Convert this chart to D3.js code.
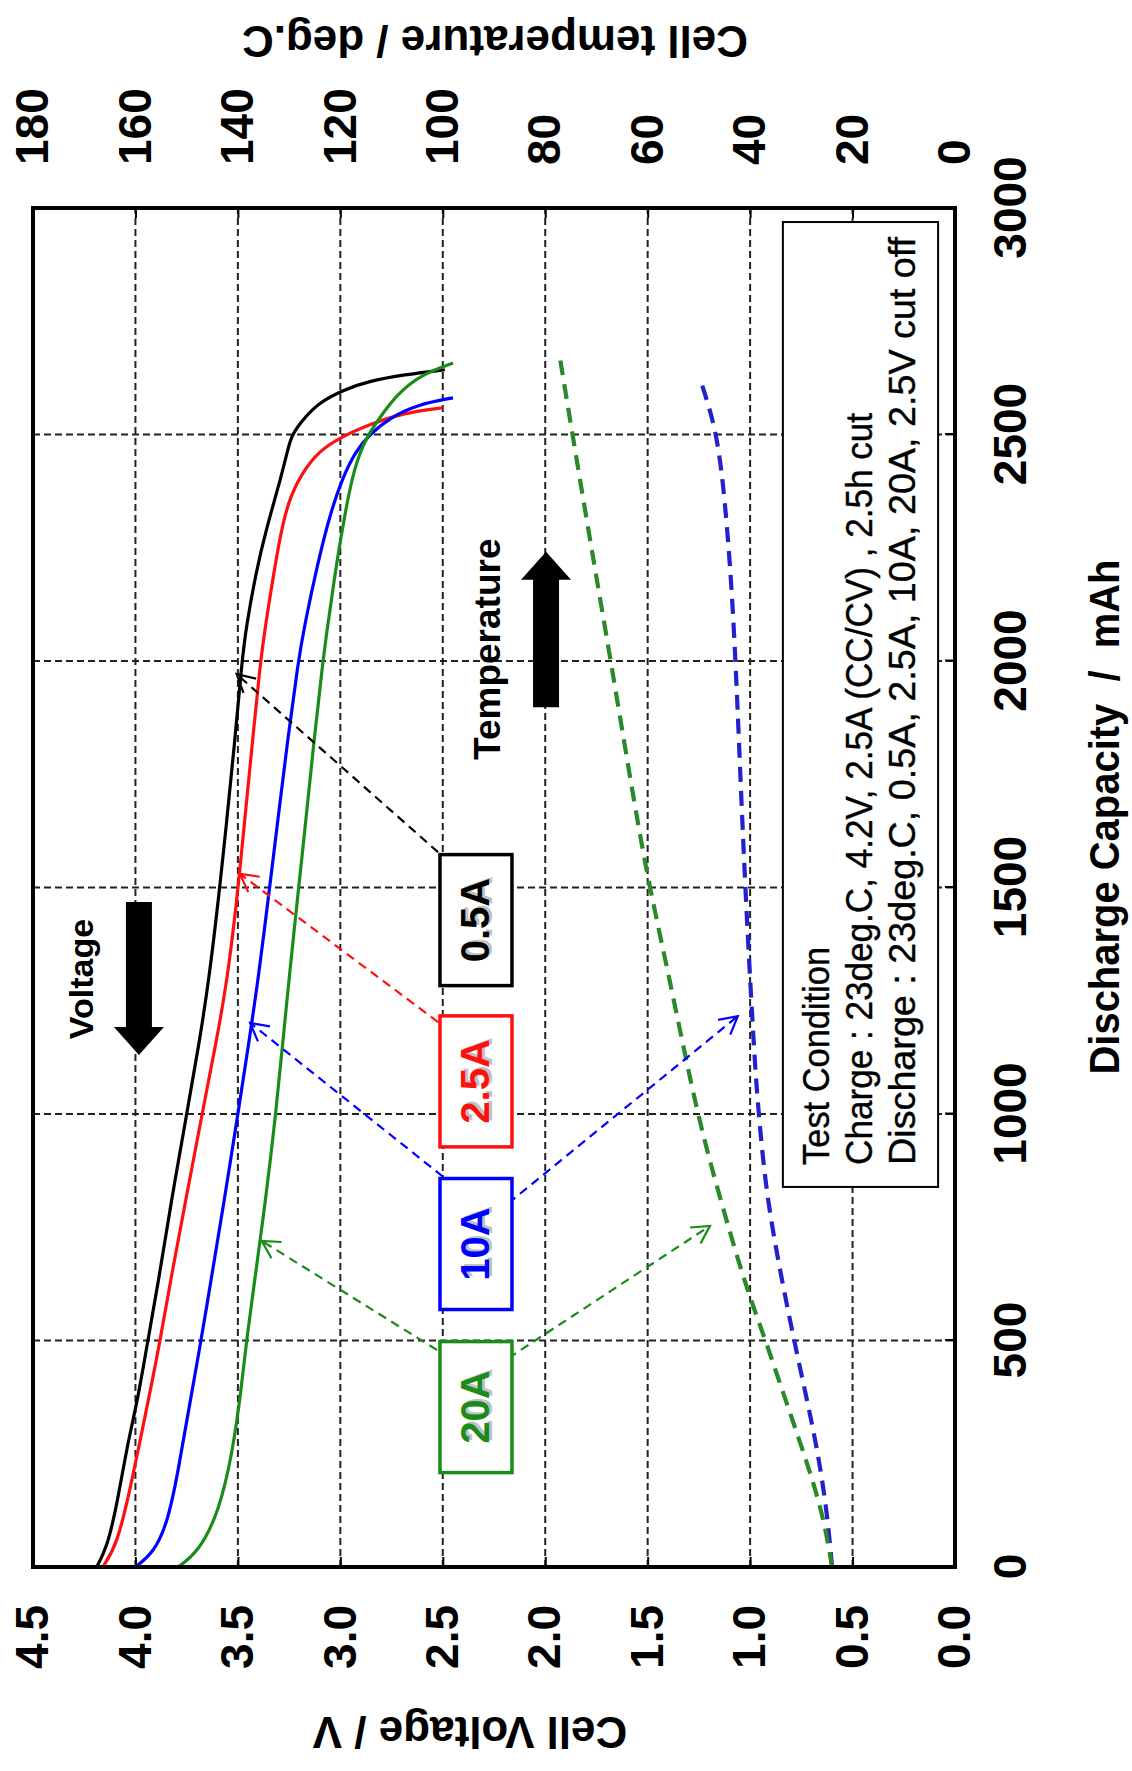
<!DOCTYPE html>
<html>
<head>
<meta charset="utf-8">
<script src="https://cdn.jsdelivr.net/npm/d3@7"></script>
<style>
  body { margin: 0; background: #fff; }
  svg { display: block; }
</style>
</head>
<body>
<svg id="chart"></svg>
<script>
// discharge curves, [capacity mAh, cell voltage V]
const volt05A = [[0,4.19],[41,4.14],[137,4.09],[270,4.04],[366,3.99],[499,3.94],[624,3.89],[808,3.825],[1000,3.75],[1153,3.69],[1300,3.64],[1493,3.59],[1645,3.555],[1823,3.515],[2000,3.48],[2074,3.46],[2200,3.41],[2294,3.36],[2404,3.29],[2470,3.255],[2500,3.235],[2529,3.19],[2570,3.108],[2599,2.983],[2618,2.858],[2632,2.69],[2643,2.49]]
const volt25A = [[0,4.16],[48,4.09],[174,4.025],[284,3.975],[395,3.925],[499,3.88],[654,3.82],[808,3.755],[1000,3.675],[1153,3.608],[1300,3.55],[1493,3.5],[1616,3.474],[1793,3.435],[2000,3.39],[2074,3.367],[2294,3.29],[2368,3.24],[2412,3.19],[2463,3.108],[2496,2.99],[2522,2.858],[2548,2.69],[2559,2.5]]
const volt10A = [[0,4.0],[33,3.908],[100,3.842],[210,3.792],[343,3.742],[499,3.68],[650,3.625],[808,3.567],[1000,3.5],[1153,3.448],[1300,3.4],[1493,3.347],[1645,3.306],[1823,3.258],[2000,3.205],[2074,3.177],[2221,3.108],[2324,3.05],[2404,2.99],[2463,2.925],[2500,2.858],[2537,2.758],[2566,2.625],[2581,2.45]]
const volt20A = [[0,3.792],[33,3.692],[122,3.592],[255,3.525],[395,3.483],[499,3.458],[593,3.43],[808,3.365],[1000,3.315],[1153,3.282],[1300,3.25],[1493,3.205],[1645,3.169],[1823,3.129],[2000,3.085],[2074,3.063],[2221,3.017],[2331,2.975],[2426,2.933],[2493,2.875],[2537,2.808],[2588,2.725],[2632,2.608],[2658,2.45]]

// cell temperature, [capacity mAh, deg.C]
const temp10A = [[0,24],[100,24.8],[200,26],[300,27.6],[400,29.5],[500,31.4],[600,33.2],[700,34.9],[800,36.4],[900,37.5],[1000,38.3],[1095,39],[1377,40.4],[1658,41.6],[2000,42.8],[2217,43.9],[2400,45.3],[2500,46.6],[2560,48],[2610,49.4]]
const temp20A = [[0,24],[100,25.5],[200,28],[300,31],[400,34],[500,37],[578,39.5],[664,42],[815,45.9],[1002,50.4],[1265,55.1],[1499,59.6],[1658,62.2],[2000,67.2],[2217,70.5],[2467,74.2],[2667,77.1]]

const capTicks = [0, 500, 1000, 1500, 2000, 2500, 3000]
const voltTicks = [0, 0.5, 1, 1.5, 2, 2.5, 3, 3.5, 4, 4.5]
const tempTicks = [0, 20, 40, 60, 80, 100, 120, 140, 160, 180]
const rateNames = ["0.5A", "2.5A", "10A", "20A"]
const conditionLines = [
  "Test Condition",
  "Charge : 23deg.C, 4.2V, 2.5A (CC/CV) , 2.5h cut",
  "Discharge : 23deg.C, 0.5A, 2.5A, 10A, 20A, 2.5V cut off",
]

const FONT = "'Liberation Sans', Arial, sans-serif"
const colors = { "0.5A": "#000000", "2.5A": "#ff1010", "10A": "#0000ff", "20A": "#1a8c1a" }
const tempColors = { "10A": "#2222cc", "20A": "#2a8a2a" }

// page is drawn as the normal chart, then turned a quarter left
const W = 1132, H = 1771
const plot = { left: 33, bottom: 1567, w: 1359, h: 922 }

const svg = d3.select("#chart").attr("width", W).attr("height", H)
svg.append("rect").attr("width", W).attr("height", H).attr("fill", "#fff")

const g = svg.append("g")
  .attr("transform", `translate(${plot.left},${plot.bottom}) rotate(-90)`)

const x = d3.scaleLinear().domain([0, 3000]).range([0, plot.w])
const y = d3.scaleLinear().domain([0, 4.5]).range([plot.h, 0])
const yT = d3.scaleLinear().domain([0, 180]).range([plot.h, 0])

// grid
const grid = g.append("g").attr("stroke", "#222").attr("stroke-width", 2).attr("stroke-dasharray", "7,4")
grid.selectAll(".gx").data(capTicks.slice(1, -1)).join("line")
  .attr("x1", d => x(d)).attr("x2", d => x(d)).attr("y1", 0).attr("y2", plot.h)
grid.selectAll(".gy").data(voltTicks.slice(1, -1)).join("line")
  .attr("y1", d => y(d)).attr("y2", d => y(d)).attr("x1", 0).attr("x2", plot.w)

// test condition box
const cb = g.append("g")
cb.append("rect")
  .attr("x", x(839)).attr("y", y(0.84))
  .attr("width", x(2969) - x(839)).attr("height", y(0.0825) - y(0.84))
  .attr("fill", "#fff").attr("stroke", "#000").attr("stroke-width", 2)
cb.selectAll("text").data(conditionLines).join("text")
  .attr("x", x(839) + 22)
  .attr("y", (d, i) => y(0.84) + 46 + i * 43)
  .attr("font-family", FONT).attr("font-size", 37)
  .attr("stroke", "#000").attr("stroke-width", 0.4)
  .attr("textLength", (d, i) => [218, 752, 928][i]).attr("lengthAdjust", "spacingAndGlyphs")
  .text(d => d)

// curves
const line = d3.line().x(d => x(d[0])).y(d => y(d[1])).curve(d3.curveBasis)
const tline = d3.line().x(d => x(d[0])).y(d => yT(d[1])).curve(d3.curveBasis)

const voltSeries = [["0.5A", volt05A], ["2.5A", volt25A], ["10A", volt10A], ["20A", volt20A]]
g.append("g").selectAll("path").data(voltSeries).join("path")
  .attr("d", d => line(d[1]))
  .attr("fill", "none").attr("stroke", d => colors[d[0]]).attr("stroke-width", 3.2)

const tempSeries = [["10A", temp10A], ["20A", temp20A]]
g.append("g").selectAll("path").data(tempSeries).join("path")
  .attr("d", d => tline(d[1]))
  .attr("fill", "none").attr("stroke", d => tempColors[d[0]])
  .attr("stroke-width", 4.2).attr("stroke-dasharray", "15,9")

// rate labels with dashed pointers
const boxCap = { "0.5A": 1428, "2.5A": 1072, "10A": 713, "20A": 353 }
const boxV = 2.338
const pointers = [
  ["0.5A", [1578, 2.523], [1971, 3.506]],
  ["2.5A", [1203, 2.523], [1530, 3.49]],
  ["10A", [862, 2.50], [1201, 3.44]],
  ["20A", [479, 2.528], [720, 3.384]],
  ["10A", [803, 2.18], [1216, 1.06]],
  ["20A", [461, 2.18], [753, 1.196]],
]
const pg = g.append("g").attr("fill", "none").attr("stroke-width", 2.2)
pointers.forEach(([k, a, b]) => {
  const x1 = x(a[0]), y1 = y(a[1]), x2 = x(b[0]), y2 = y(b[1])
  pg.append("line").attr("x1", x1).attr("y1", y1).attr("x2", x2).attr("y2", y2)
    .attr("stroke", colors[k]).attr("stroke-dasharray", "9,6")
  const ang = Math.atan2(y2 - y1, x2 - x1), L = 20, s = 0.5
  const p = [ang - s, ang + s].map(t => [x2 - L * Math.cos(t), y2 - L * Math.sin(t)])
  pg.append("path")
    .attr("d", `M${p[0]}L${x2},${y2}L${p[1]}`)
    .attr("stroke", colors[k])
})

const bw = 131, bh = 72
const lb = g.append("g").selectAll("g").data(rateNames).join("g")
  .attr("transform", d => `translate(${x(boxCap[d])},${y(boxV)})`)
lb.append("rect")
  .attr("x", -bw / 2).attr("y", -bh / 2).attr("width", bw).attr("height", bh)
  .attr("fill", "#fff").attr("stroke", d => colors[d]).attr("stroke-width", 3.5)
lb.append("text")
  .attr("x", 2).attr("y", 13 + 3).attr("text-anchor", "middle")
  .attr("font-family", FONT).attr("font-size", 40).attr("font-weight", "bold")
  .attr("fill", "#999").attr("opacity", 0.6).text(d => d)
lb.append("text")
  .attr("x", 0).attr("y", 13).attr("text-anchor", "middle")
  .attr("font-family", FONT).attr("font-size", 40).attr("font-weight", "bold")
  .attr("fill", d => colors[d]).text(d => d)

// block arrows for Voltage / Temperature
function blockArrow(tail, tip, v) {
  const tx = x(tail), px = x(tip), cy = y(v), dir = Math.sign(px - tx)
  const bx = px - dir * 28, s = 13, hw = 25
  return `M${tx},${cy - s}L${bx},${cy - s}L${bx},${cy - hw}L${px},${cy}L${bx},${cy + hw}L${bx},${cy + s}L${tx},${cy + s}Z`
}
g.append("path").attr("d", blockArrow(1468, 1130, 3.983)).attr("fill", "#000")
g.append("path").attr("d", blockArrow(1898, 2241, 1.996)).attr("fill", "#000")
g.append("text").attr("x", x(1298)).attr("y", y(4.207)).attr("text-anchor", "middle")
  .attr("font-family", FONT).attr("font-size", 34).attr("font-weight", "bold").text("Voltage")
g.append("text").attr("x", x(2026)).attr("y", y(2.221)).attr("text-anchor", "middle")
  .attr("font-family", FONT).attr("font-size", 37).attr("font-weight", "bold").text("Temperature")

// axes
function styleAxis(sel) {
  sel.select(".domain").remove()
  sel.selectAll(".tick line").attr("stroke", "#000").attr("stroke-width", 2)
  sel.selectAll("text").attr("font-family", FONT).attr("font-size", 46)
    .attr("font-weight", "bold").attr("fill", "#000")
}
g.append("g").attr("transform", `translate(0,${plot.h})`)
  .call(d3.axisBottom(x).tickValues(capTicks).tickFormat(d3.format("d")).tickSize(-10).tickPadding(38))
  .call(styleAxis)
g.append("g")
  .call(d3.axisLeft(y).tickValues(voltTicks).tickFormat(d3.format(".1f")).tickSize(-10).tickPadding(38))
  .call(styleAxis)
g.append("g").attr("transform", `translate(${plot.w},0)`)
  .call(d3.axisRight(yT).tickValues(tempTicks).tickFormat(d3.format("d")).tickSize(-10).tickPadding(43))
  .call(styleAxis)

// frame
g.append("rect").attr("width", plot.w).attr("height", plot.h)
  .attr("fill", "none").attr("stroke", "#000").attr("stroke-width", 4)

// axis titles
g.append("text").attr("x", 750).attr("y", 1086).attr("text-anchor", "middle")
  .attr("font-family", FONT).attr("font-size", 43).attr("font-weight", "bold")
  .style("white-space", "pre")
  .attr("textLength", 515).attr("lengthAdjust", "spacingAndGlyphs")
  .text("Discharge Capacity  /  mAh")
g.append("text").attr("transform", `translate(-150,437) rotate(-90)`).attr("text-anchor", "middle")
  .attr("font-family", FONT).attr("font-size", 44).attr("font-weight", "bold")
  .text("Cell Voltage / V")
g.append("text").attr("transform", `translate(1541,462) rotate(-90)`).attr("text-anchor", "middle")
  .attr("font-family", FONT).attr("font-size", 44).attr("font-weight", "bold")
  .text("Cell temperature / deg.C")
</script>
</body>
</html>
